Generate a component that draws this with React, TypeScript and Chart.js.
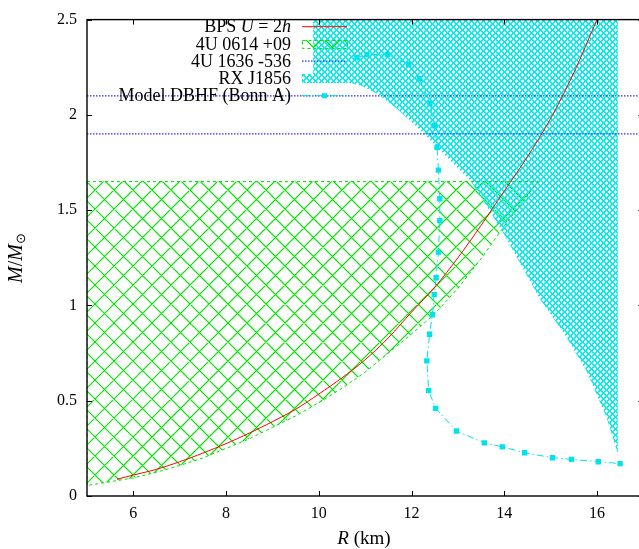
import React, { useEffect, useRef } from "react";
import { Chart, registerables } from "chart.js";

Chart.register(...registerables);

// ---------------- data ----------------
const xRange = [5, 17];
const yRange = [0, 2.5];
const xTicks = [6, 8, 10, 12, 14, 16];
const yTicks = [0, 0.5, 1, 1.5, 2, 2.5];
const yTickLabels = ["0", "0.5", "1", "1.5", "2", "2.5"];

// BPS U = 2h
const bpsR = [5.65, 6, 6.5, 7, 7.5, 8, 8.5, 9, 9.5, 10, 10.5, 11, 11.5, 12, 12.5, 13, 13.5, 14, 14.5, 15, 15.5, 16];
const bpsM = [0.088, 0.11, 0.14, 0.18, 0.225, 0.275, 0.33, 0.39, 0.455, 0.535, 0.62, 0.715, 0.83, 0.965, 1.095, 1.25, 1.42, 1.6, 1.78, 1.98, 2.22, 2.5];

// 4U 0614 +09 allowed region (closed polygon)
const r0614 = [5, 14.73, 13.95, 13.5, 13.0, 12.5, 12.0, 11.5, 11.0, 10.5, 10.0, 9.5, 9.0, 8.5, 8.0, 7.5, 7.0, 6.5, 6.0, 5.5, 5.0, 5];
const m0614 = [1.65, 1.65, 1.40, 1.245, 1.09, 0.955, 0.85, 0.75, 0.65, 0.565, 0.49, 0.42, 0.36, 0.30, 0.25, 0.20, 0.16, 0.125, 0.095, 0.075, 0.055, 1.65];

// 4U 1636 -536 mass bounds
const m1636 = [2.1, 1.9];

// RX J1856 allowed region (closed polygon)
const rRX = [9.88, 16.45, 16.45, 16.21, 15.78, 15.3, 14.77, 14.34, 13.98, 13.6, 13.27, 12.9, 12.5, 12.1, 11.7, 11.3, 10.9, 10.5, 9.88, 9.88];
const mRX = [2.5, 2.5, 0.22, 0.41, 0.654, 0.85, 1.034, 1.224, 1.38, 1.53, 1.656, 1.745, 1.845, 1.94, 2.03, 2.105, 2.155, 2.175, 2.175, 2.5];

// Model DBHF (Bonn A)
const dbhfR = [10.82, 11.04, 11.48, 11.94, 12.17, 12.40, 12.50, 12.55, 12.58, 12.61, 12.61, 12.58, 12.53, 12.49, 12.45, 12.39, 12.33, 12.37, 12.52, 12.97, 13.57, 13.96, 14.44, 15.04, 15.45, 16.03, 16.50];
const dbhfM = [2.30, 2.317, 2.317, 2.265, 2.19, 2.06, 1.943, 1.83, 1.71, 1.56, 1.445, 1.28, 1.145, 1.057, 0.951, 0.849, 0.709, 0.553, 0.46, 0.341, 0.279, 0.258, 0.227, 0.201, 0.192, 0.18, 0.17];

// legend entries as [text, italic] segments
const legendEntries: [string, boolean][][] = [
  [["BPS ", false], ["U", true], [" = 2", false], ["h", true]],
  [["4U 0614 +09", false]],
  [["4U 1636 -536", false]],
  [["RX J1856", false]],
  [["Model DBHF (Bonn A)", false]],
];

// ---------------- styles ----------------
const SERIF = '"Liberation Serif", "Times New Roman", serif';
const RED = "#ff0000";
const GREEN = "rgb(0,225,0)";
const BLUE = "rgb(40,40,255)";
const CYAN = "rgb(0,240,240)";
const CYAN_PT = "rgb(0,226,236)";

const toPts = (xs: number[], ys: number[]) => xs.map((x, i) => ({ x, y: ys[i] }));

// pixel tile for the fine cyan mesh
function makeMesh(ctx: CanvasRenderingContext2D, size: number, color: string) {
  const c = document.createElement("canvas");
  c.width = size;
  c.height = size;
  const g = c.getContext("2d")!;
  g.fillStyle = color;
  for (let i = 0; i < size; i++) {
    for (let t = 0; t < 2; t++) {
      g.fillRect((i + t) % size, i, 1, 1);
      g.fillRect((size - 1 - i + t + size) % size, i, 1, 1);
    }
  }
  return ctx.createPattern(c, "repeat")!;
}

// stroked crosshatch for the coarse green hatch
function strokeHatch(
  ctx: CanvasRenderingContext2D,
  x0: number,
  y0: number,
  x1: number,
  y1: number,
  P: number,
  color: string,
  lw: number
) {
  ctx.save();
  ctx.setLineDash([]);
  ctx.strokeStyle = color;
  ctx.lineWidth = lw;
  ctx.beginPath();
  const top = Math.floor(y0 / P) * P;
  const h = Math.ceil((y1 - top) / P) * P + P;
  const start = Math.floor((x0 - h) / P) * P;
  for (let x = start; x <= x1 + h; x += P) {
    ctx.moveTo(x, top);
    ctx.lineTo(x + h, top + h);
    ctx.moveTo(x, top + h);
    ctx.lineTo(x + h, top);
  }
  ctx.stroke();
  ctx.restore();
}

function fontStr(size: number, italic: boolean) {
  return `${italic ? "italic " : ""}${size}px ${SERIF}`;
}

function drawSegs(
  ctx: CanvasRenderingContext2D,
  segs: { t: string; it: boolean; size: number; dy: number }[],
  x: number,
  y: number,
  align: "right" | "center"
) {
  let total = 0;
  const widths = segs.map((s) => {
    ctx.font = fontStr(s.size, s.it);
    const w = ctx.measureText(s.t).width;
    total += w;
    return w;
  });
  let cx = align === "right" ? x - total : x - total / 2;
  ctx.textAlign = "left";
  segs.forEach((s, i) => {
    ctx.font = fontStr(s.size, s.it);
    ctx.fillText(s.t, cx, y + s.dy);
    cx += widths[i];
  });
}

export default function App() {
  const ref = useRef<HTMLCanvasElement>(null);

  useEffect(() => {
    const canvas = ref.current!;
    const mesh = makeMesh(canvas.getContext("2d")!, 6, CYAN);

    const fillRegion = (ctx: CanvasRenderingContext2D, kind: string, x0: number, y0: number, x1: number, y1: number) => {
      if (kind === "green") {
        strokeHatch(ctx, x0, y0, x1, y1, 19, GREEN, 1.2);
      } else {
        ctx.fillStyle = mesh;
        ctx.fillRect(x0, y0, x1 - x0, y1 - y0);
      }
    };

    const hatchFill = {
      id: "hatchFill",
      beforeDatasetsDraw(chart: any) {
        const { ctx, chartArea: a } = chart;
        chart.data.datasets.forEach((ds: any, i: number) => {
          if (!ds.hatch) return;
          const pts = chart.getDatasetMeta(i).data;
          if (!pts.length) return;
          ctx.save();
          ctx.beginPath();
          ctx.rect(a.left, a.top, a.right - a.left, a.bottom - a.top);
          ctx.clip();
          ctx.beginPath();
          pts.forEach((p: any, j: number) => {
            if (j === 0) ctx.moveTo(p.x, p.y);
            else ctx.lineTo(p.x, p.y);
          });
          ctx.closePath();
          ctx.clip();
          fillRegion(ctx, ds.hatch, a.left, a.top, a.right, a.bottom);
          ctx.restore();
        });
      },
    };

    const decor = {
      id: "decor",
      afterDatasetsDraw(chart: any) {
        const { ctx, chartArea: a, scales } = chart;
        const xs = scales.x;
        const ys = scales.y;
        ctx.save();
        // border
        ctx.strokeStyle = "#000";
        ctx.lineWidth = 1.4;
        ctx.setLineDash([]);
        ctx.strokeRect(a.left, a.top, a.right - a.left, a.bottom - a.top);
        // inward ticks
        ctx.lineWidth = 1;
        ctx.beginPath();
        for (const v of xTicks) {
          const px = Math.round(xs.getPixelForValue(v)) + 0.5;
          ctx.moveTo(px, a.bottom);
          ctx.lineTo(px, a.bottom - 5);
          ctx.moveTo(px, a.top);
          ctx.lineTo(px, a.top + 5);
        }
        for (const v of yTicks) {
          const py = Math.round(ys.getPixelForValue(v)) + 0.5;
          ctx.moveTo(a.left, py);
          ctx.lineTo(a.left + 5, py);
          ctx.moveTo(a.right, py);
          ctx.lineTo(a.right - 5, py);
        }
        ctx.stroke();

        // legend
        const textRight = 291;
        const k0 = 302;
        const k1 = 347;
        const rowY0 = 26.7;
        const rowStep = 17.25;
        ctx.textBaseline = "middle";
        legendEntries.forEach((segs, i) => {
          const y = rowY0 + i * rowStep;
          ctx.fillStyle = "#000";
          drawSegs(
            ctx,
            segs.map(([t, it]) => ({ t, it, size: 18, dy: 1 })),
            textRight,
            y,
            "right"
          );
          ctx.save();
          if (i === 0) {
            ctx.strokeStyle = RED;
            ctx.lineWidth = 1;
            ctx.beginPath();
            ctx.moveTo(k0, y);
            ctx.lineTo(k1, y);
            ctx.stroke();
          } else if (i === 1) {
            ctx.save();
            ctx.beginPath();
            ctx.rect(k0, y - 4, k1 - k0, 8);
            ctx.clip();
            fillRegion(ctx, "green", k0, y - 4, k1, y + 4);
            ctx.restore();
            ctx.strokeStyle = GREEN;
            ctx.setLineDash([3, 3]);
            ctx.lineWidth = 1;
            ctx.strokeRect(k0 + 0.5, y - 4 + 0.5, k1 - k0, 8);
          } else if (i === 2) {
            ctx.strokeStyle = BLUE;
            ctx.lineWidth = 1.2;
            ctx.setLineDash([1.5, 1.5]);
            ctx.beginPath();
            ctx.moveTo(k0, y);
            ctx.lineTo(k1, y);
            ctx.stroke();
          } else if (i === 3) {
            fillRegion(ctx, "cyan", k0, Math.round(y - 4.5), k1, Math.round(y + 4.5));
          } else {
            ctx.strokeStyle = CYAN_PT;
            ctx.lineWidth = 1;
            ctx.setLineDash([7, 3, 1.5, 3]);
            ctx.beginPath();
            ctx.moveTo(k0, y);
            ctx.lineTo(k1, y);
            ctx.stroke();
            ctx.fillStyle = CYAN_PT;
            ctx.fillRect((k0 + k1) / 2 - 2.5, y - 2.5, 5, 5);
          }
          ctx.restore();
        });

        // axis titles
        ctx.fillStyle = "#000";
        ctx.textBaseline = "middle";
        drawSegs(
          ctx,
          [
            { t: "R", it: true, size: 19, dy: 0 },
            { t: " (km)", it: false, size: 19, dy: 0 },
          ],
          364,
          539,
          "center"
        );
        ctx.save();
        ctx.translate(17, 258);
        ctx.rotate(-Math.PI / 2);
        drawSegs(
          ctx,
          [
            { t: "M", it: true, size: 20, dy: 0 },
            { t: "/", it: false, size: 20, dy: 0 },
            { t: "M", it: true, size: 20, dy: 0 },
            { t: "\u2299", it: false, size: 13, dy: 5 },
          ],
          0,
          0,
          "center"
        );
        ctx.restore();
        ctx.restore();
      },
    };

    const chart = new Chart(canvas, {
      type: "line",
      data: {
        datasets: [
          {
            label: "BPS U = 2h",
            data: toPts(bpsR, bpsM),
            borderColor: RED,
            borderWidth: 1,
            pointRadius: 0,
            tension: 0.3,
            fill: false,
            order: 0,
          },
          {
            label: "4U 0614 +09",
            data: toPts(r0614, m0614),
            hatch: "green",
            borderColor: GREEN,
            borderWidth: 1,
            borderDash: [3, 3],
            pointRadius: 0,
            fill: false,
            order: 5,
          },
          {
            label: "4U 1636 -536",
            data: toPts(xRange, [m1636[0], m1636[0]]),
            borderColor: BLUE,
            borderWidth: 1.2,
            borderDash: [1.5, 1.5],
            pointRadius: 0,
            fill: false,
            order: 2,
          },
          {
            label: "4U 1636 -536 (b)",
            data: toPts(xRange, [m1636[1], m1636[1]]),
            borderColor: BLUE,
            borderWidth: 1.2,
            borderDash: [1.5, 1.5],
            pointRadius: 0,
            fill: false,
            order: 2,
          },
          {
            label: "RX J1856",
            data: toPts(rRX, mRX),
            hatch: "cyan",
            borderColor: "rgba(0,0,0,0)",
            borderWidth: 1,
            pointRadius: 0,
            fill: false,
            order: 4,
          },
          {
            label: "Model DBHF (Bonn A)",
            data: toPts(dbhfR, dbhfM),
            borderColor: CYAN_PT,
            borderWidth: 1,
            borderDash: [7, 3, 1.5, 3],
            pointStyle: "rect",
            pointRadius: 3.8,
            pointBackgroundColor: CYAN_PT,
            pointBorderColor: CYAN_PT,
            pointBorderWidth: 0,
            fill: false,
            order: 1,
          },
        ] as any,
      },
      options: {
        responsive: false,
        animation: false,
        events: [],
        layout: { padding: { left: 0, top: 14, right: 660 - 643.3, bottom: 0 } },
        plugins: {
          legend: { display: false },
          tooltip: { enabled: false },
        },
        scales: {
          x: {
            type: "linear",
            min: xRange[0],
            max: xRange[1],
            grid: { display: false, drawTicks: false },
            border: { display: false },
            ticks: {
              font: { family: SERIF, size: 16 },
              color: "#000",
              padding: 8,
              maxRotation: 0,
            },
            afterBuildTicks: (s: any) => {
              s.ticks = xTicks.map((v) => ({ value: v }));
            },
            afterFit: (s: any) => {
              s.height = 53;
            },
          },
          y: {
            type: "linear",
            min: yRange[0],
            max: yRange[1],
            grid: { display: false, drawTicks: false },
            border: { display: false },
            ticks: {
              font: { family: SERIF, size: 16 },
              color: "#000",
              padding: 10,
              callback: (v: any) => {
                const i = yTicks.indexOf(Number(v));
                return i >= 0 ? yTickLabels[i] : "";
              },
            },
            afterBuildTicks: (s: any) => {
              s.ticks = yTicks.map((v) => ({ value: v }));
            },
            afterFit: (s: any) => {
              s.width = 87;
            },
          },
        },
      } as any,
      plugins: [hatchFill, decor],
    });

    return () => chart.destroy();
  }, []);

  return (
    <div
      style={{
        position: "absolute",
        left: 0,
        top: 0,
        width: 639,
        height: 549,
        overflow: "hidden",
        background: "#fff",
      }}
    >
      <canvas ref={ref} width={660} height={549} style={{ width: 660, height: 549, display: "block" }} />
    </div>
  );
}
